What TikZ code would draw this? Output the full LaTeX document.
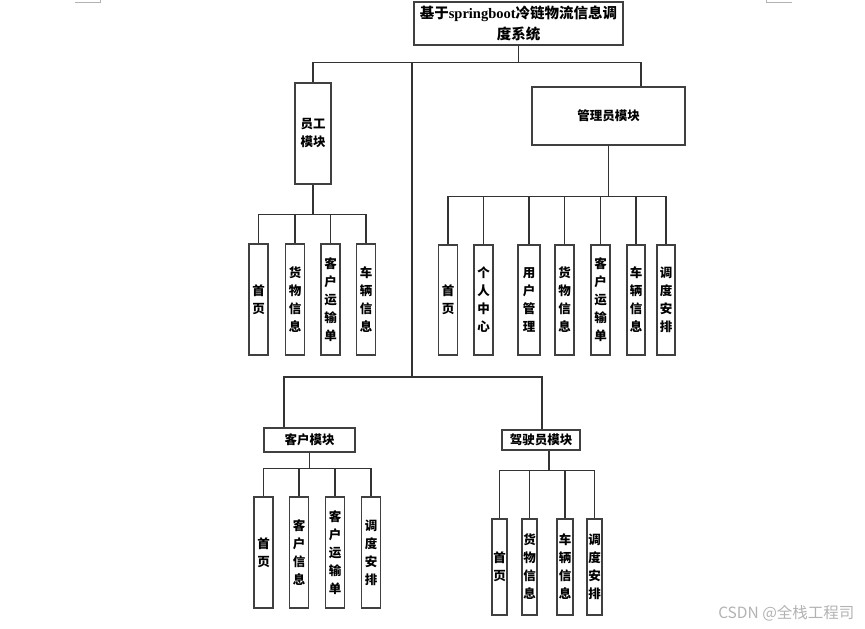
\documentclass[tikz,border=0pt]{standalone}
\usepackage{fontspec}
\setmainfont{Liberation Serif}
\newfontfamily\cjk{Noto Sans CJK SC}
\usetikzlibrary{positioning}

\newcommand\lblfont{\cjk\bfseries\fontsize{12.5}{18}\selectfont}
\newcommand\ttlfont{\bfseries\fontsize{14.5}{21.5}\selectfont}

\begin{document}
\begin{tikzpicture}[x=1pt,y=1pt,
  line/.style={black!80, line width=1.1pt},
  box/.style={draw=black!75, line width=1.1pt, fill=white, inner sep=0pt, font=\lblfont, align=center},
  leaf/.style={box, minimum width=19, minimum height=111}]
\useasboundingbox (0,-629) rectangle (865,0);

% page corner marks
\draw[black!30, line width=0.6pt] (75,-2) -- (100,-2) -- (100,0);
\draw[black!30, line width=0.6pt] (766,0) -- (766,-2) -- (792,-2);

% title and modules
\node[box, minimum width=209, minimum height=43, font=\ttlfont] (title) at (518.5,-23.5)
  {{\cjk 基于}springboot{\cjk 冷链物流信息调}\\{\cjk 度系统}};
\node[box, minimum width=36, minimum height=101] (staff) at (313,-133.5) {员工\\模块};
\node[box, minimum width=153, minimum height=58] (admin) at (608.5,-116) {管理员模块};
\node[box, minimum width=91, minimum height=24] (cust) at (309.5,-440) {客户模块};
\node[box, minimum width=78, minimum height=20] (drv) at (541,-440) {驾驶员模块};
\coordinate (hub) at (412,-377);

% staff leaves
\node[leaf] (s1) at (258.5,-299.5) {首\\页};
\node[leaf] (s2) at (295,-299.5) {货\\物\\信\\息};
\node[leaf] (s3) at (330.5,-299.5) {客\\户\\运\\输\\单};
\node[leaf] (s4) at (366,-299.5) {车\\辆\\信\\息};

% admin leaves
\node[leaf, minimum height=110] (a1) at (448,-300) {首\\页};
\node[leaf, minimum height=110] (a2) at (483.5,-300) {个\\人\\中\\心};
\node[leaf, minimum height=110, minimum width=22] (a3) at (529,-300) {用\\户\\管\\理};
\node[leaf, minimum height=110] (a4) at (564.5,-300) {货\\物\\信\\息};
\node[leaf, minimum height=110] (a5) at (600.5,-300) {客\\户\\运\\输\\单};
\node[leaf, minimum height=110, minimum width=18] (a6) at (636,-300) {车\\辆\\信\\息};
\node[leaf, minimum height=110, minimum width=18] (a7) at (666,-300) {调\\度\\安\\排};

% customer leaves
\node[leaf] (c1) at (263.5,-552.5) {首\\页};
\node[leaf] (c2) at (299,-552.5) {客\\户\\信\\息};
\node[leaf] (c3) at (335,-552.5) {客\\户\\运\\输\\单};
\node[leaf] (c4) at (371,-552.5) {调\\度\\安\\排};

% driver leaves
\node[leaf, minimum width=15, minimum height=96] (d1) at (499.5,-567) {首\\页};
\node[leaf, minimum width=15, minimum height=96] (d2) at (529.5,-567) {货\\物\\信\\息};
\node[leaf, minimum width=16, minimum height=96] (d3) at (565,-567) {车\\辆\\信\\息};
\node[leaf, minimum width=15, minimum height=96] (d4) at (594.5,-567) {调\\度\\安\\排};

% top level
\draw[line] (title.south) -- ++(0,-17) -| (staff.north);
\draw[line] (title.south) -- ++(0,-17) -| ([xshift=32.5]admin.north);
\draw[line] (title.south) -- ++(0,-17) -| (hub);
\draw[line] (hub) -| ([xshift=-25.5]cust.north);
\draw[line] (hub) -| ([xshift=1]drv.north);

% staff branch
\draw[line] (staff.south) -- ++(0,-30) -| (s1.north);
\draw[line] (staff.south) -- ++(0,-30) -| (s2.north);
\draw[line] (staff.south) -- ++(0,-30) -| (s3.north);
\draw[line] (staff.south) -- ++(0,-30) -| (s4.north);

% admin branch
\draw[line] (admin.south) -- ++(0,-51) -| (a1.north);
\draw[line] (admin.south) -- ++(0,-51) -| (a2.north);
\draw[line] (admin.south) -- ++(0,-51) -| (a3.north);
\draw[line] (admin.south) -- ++(0,-51) -| (a4.north);
\draw[line] (admin.south) -- ++(0,-51) -| (a5.north);
\draw[line] (admin.south) -- ++(0,-51) -| (a6.north);
\draw[line] (admin.south) -- ++(0,-51) -| (a7.north);

% customer branch
\draw[line] (cust.south) -- ++(0,-16) -| (c1.north);
\draw[line] (cust.south) -- ++(0,-16) -| (c2.north);
\draw[line] (cust.south) -- ++(0,-16) -| (c3.north);
\draw[line] (cust.south) -- ++(0,-16) -| (c4.north);

% driver branch
\draw[line] ([xshift=8]drv.south) -- ++(0,-20) -| (d1.north);
\draw[line] ([xshift=8]drv.south) -- ++(0,-20) -| (d2.north);
\draw[line] ([xshift=8]drv.south) -- ++(0,-20) -| (d3.north);
\draw[line] ([xshift=8]drv.south) -- ++(0,-20) -| (d4.north);

% watermark
\node[black!30, font=\cjk\fontsize{15.5}{17}\selectfont, anchor=east] (mark) at (858,-613) {CSDN @全栈工程司};
\end{tikzpicture}
\end{document}
